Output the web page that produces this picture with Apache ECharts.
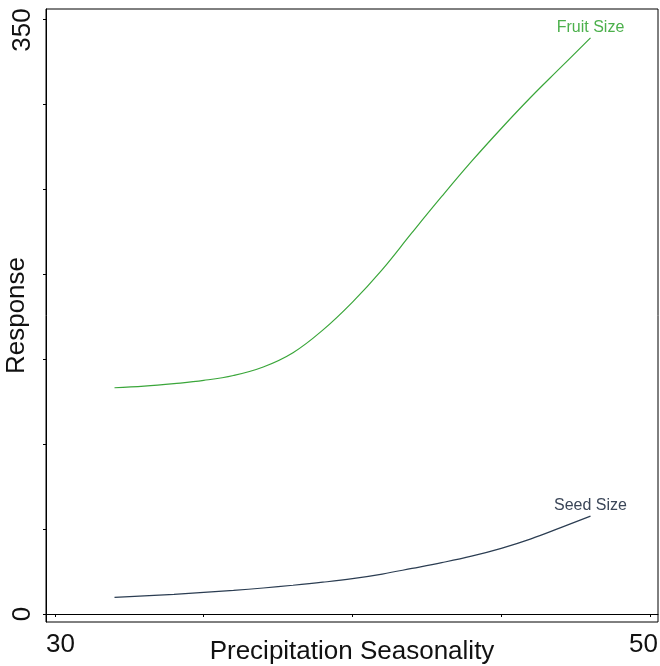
<!DOCTYPE html>
<html>
<head>
<meta charset="utf-8">
<script src="https://cdn.jsdelivr.net/npm/echarts@6/dist/echarts.min.js"></script>
<style>
html,body{margin:0;padding:0;background:#fff;}
#chart{width:660px;height:666px;}
</style>
</head>
<body>
<div id="chart"></div>
<script>
const xValues = [32, 33, 34, 35, 36, 37, 38, 39, 40, 41, 42, 43, 44, 45, 46, 47, 48];
const fruitSize = [133.1, 134.0, 135.5, 137.4, 140.3, 145.3, 153.7, 167.0, 183.5, 202.6, 224.3, 245.6, 266.2, 285.6, 304.1, 321.5, 338.9];
const seedSize = [9.8, 10.7, 11.6, 12.7, 13.9, 15.3, 16.9, 18.7, 20.8, 23.5, 26.8, 30.2, 34.0, 38.6, 44.2, 50.8, 57.6];
const seriesNames = ['Fruit Size', 'Seed Size'];
const xTickValues = [30, 35, 40, 45, 50];
const xLabelValues = [30, 50];
const yTickValues = [0, 50, 100, 150, 200, 250, 300, 350];
const yLabelValues = [0, 350];
const xTitle = 'Precipitation Seasonality';
const yTitle = 'Response';

const FONT = 'Liberation Sans, Arial, Helvetica, sans-serif';
const GREEN = '#3aa63a';
const SLATE = '#2b3d52';

function pairs(ys) { return xValues.map((x, i) => [x, ys[i]]); }
function endPoint(ys) { const i = xValues.length - 1; return [xValues[i], ys[i]]; }

const chart = echarts.init(document.getElementById('chart'), null, {renderer: 'canvas'});
chart.setOption({
  animation: false,
  backgroundColor: '#fff',
  grid: {left: 46, right: 2, top: 9, bottom: 44, containLabel: false, outerBoundsMode: 'none',
         show: true, borderColor: '#000', borderWidth: 1, backgroundColor: 'transparent'},
  xAxis: {
    type: 'value', min: 29.6975, max: 50.269,
    splitLine: {show: false},
    axisLine: {show: true, lineStyle: {color: '#000', width: 1}},
    axisTick: {show: true, customValues: xTickValues, length: 3, lineStyle: {color: '#000'}},
    axisLabel: {
      show: true, customValues: xLabelValues, margin: 10, color: '#111', fontFamily: FONT, fontSize: 26,
      formatter: v => (v === xLabelValues[0] ? '{l|' + v + '}' : '{r|' + v + '}'),
      rich: {
        l: {fontFamily: FONT, fontSize: 26, color: '#111', padding: [0, 0, 0, 11]},
        r: {fontFamily: FONT, fontSize: 26, color: '#111', padding: [0, 13, 0, 0]}
      }
    },
    name: xTitle, nameLocation: 'middle', nameGap: 17, nameMoveOverlap: false,
    nameTextStyle: {fontFamily: FONT, fontSize: 26, color: '#111'}
  },
  yAxis: {
    type: 'value', min: -4.706, max: 355.88,
    splitLine: {show: false},
    axisLine: {show: true, lineStyle: {color: '#000', width: 1}},
    axisTick: {show: true, customValues: yTickValues, length: 3, lineStyle: {color: '#000'}},
    axisLabel: {
      show: true, customValues: yLabelValues, rotate: 90, margin: 10, color: '#111', fontFamily: FONT, fontSize: 26,
      formatter: v => (v === yLabelValues[1] ? '{t|' + v + '}' : '{b|' + v + '}'),
      rich: {
        t: {fontFamily: FONT, fontSize: 26, color: '#111', padding: [0, 22, 0, 0]},
        b: {fontFamily: FONT, fontSize: 26, color: '#111'}
      }
    },
    name: yTitle, nameLocation: 'middle', nameGap: 16, nameMoveOverlap: false,
    nameTextStyle: {fontFamily: FONT, fontSize: 26, color: '#111'}
  },
  series: [
    {
      name: seriesNames[0], type: 'line', data: pairs(fruitSize), smooth: 0.4,
      showSymbol: false, symbol: 'none',
      lineStyle: {color: GREEN, width: 1.2},
      markPoint: {
        symbol: 'circle', symbolSize: 0, silent: true,
        label: {show: true, position: 'top', distance: 2, formatter: seriesNames[0], color: '#4cb04c', fontFamily: FONT, fontSize: 16},
        data: [{coord: endPoint(fruitSize)}]
      }
    },
    {
      name: seriesNames[1], type: 'line', data: pairs(seedSize), smooth: 0.4,
      showSymbol: false, symbol: 'none',
      lineStyle: {color: SLATE, width: 1.2},
      markPoint: {
        symbol: 'circle', symbolSize: 0, silent: true,
        label: {show: true, position: 'top', distance: 2, formatter: seriesNames[1], color: '#3b4658', fontFamily: FONT, fontSize: 16},
        data: [{coord: endPoint(seedSize)}]
      },
      markLine: {
        silent: true, symbol: 'none', label: {show: false},
        lineStyle: {color: '#000', type: [3, 3], width: 1},
        data: [{yAxis: 0}]
      }
    }
  ]
});
</script>
</body>
</html>
